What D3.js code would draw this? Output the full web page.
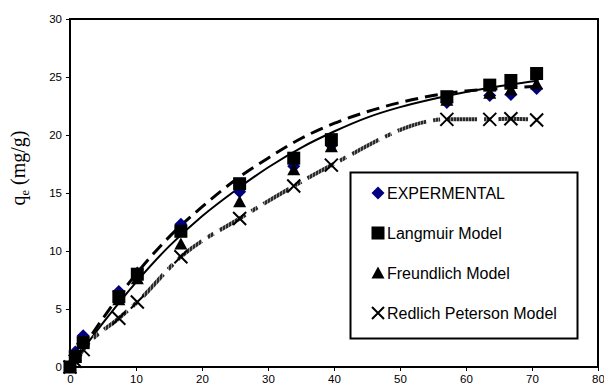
<!DOCTYPE html>
<html>
<head>
<meta charset="utf-8">
<script src="https://cdn.jsdelivr.net/npm/d3@7"></script>
<style>
  html, body { margin: 0; padding: 0; background: #fff; }
  svg { display: block; }
</style>
</head>
<body>
<svg id="chart" width="604" height="389"></svg>
<script>
// Contact time (x) shared by all series
const xValues = [0, 0.8, 2, 7.4, 10.2, 16.8, 25.7, 33.9, 39.6, 57.1, 63.6, 66.8, 70.7];

// Adsorbed amount q_e (mg/g)
const experimental = [0, 1.3, 2.7, 6.5, 8.1, 12.3, 15.1, 17.3, 19.1, 22.8, 23.4, 23.5, 24.0];
const langmuir     = [0, 0.9, 2.1, 6.06, 8.0, 11.7, 15.8, 18.0, 19.6, 23.3, 24.3, 24.7, 25.3];
const freundlich   = [0.2, 1.0, 2.2, 5.8, 7.6, 10.6, 14.25, 17.0, 19.0, 23.0, 23.6, 23.9, 24.4];
const redlich      = [0, 0.5, 1.5, 4.2, 5.6, 9.5, 12.8, 15.6, 17.4, 21.35, 21.35, 21.4, 21.3];

// Fitted trend curves
const trendX      = [0, 5, 10, 15, 20, 25, 30, 35, 40, 45, 50, 55, 60, 65, 71];
const solidTrend  = [0, 3.8, 7.3, 10.4, 13.0, 15.2, 17.2, 18.9, 20.3, 21.5, 22.4, 23.1, 23.7, 24.2, 24.7];
const dashedTrend = [0, 4.2, 8.0, 11.2, 13.8, 16.1, 18.0, 19.7, 21.0, 22.0, 22.8, 23.4, 23.8, 24.0, 24.2];

const xTicks = [0, 10, 20, 30, 40, 50, 60, 70, 80];
const yTicks = [0, 5, 10, 15, 20, 25, 30];
const legendLabels = ["EXPERMENTAL", "Langmuir Model", "Freundlich Model", "Redlich Peterson Model"];

const svg = d3.select("#chart");
const plotL = 70, plotR = 598, plotT = 19, plotB = 367;

const x = d3.scaleLinear().domain([0, 80]).range([plotL, plotR]);
const y = d3.scaleLinear().domain([0, 30]).range([plotB, plotT]);

// hatched stroke pattern for the Redlich Peterson curve
const defs = svg.append("defs");
const pat = defs.append("pattern")
  .attr("id", "hatch").attr("patternUnits", "userSpaceOnUse")
  .attr("width", 3).attr("height", 3);
pat.append("rect").attr("width", 3).attr("height", 3).attr("fill", "#2a2a2a");
pat.append("rect").attr("width", 1).attr("height", 3).attr("fill", "#8a8a8a");

const font = "'Liberation Sans', Arial, sans-serif";

// axes
const xAxis = d3.axisBottom(x).tickValues(xTicks).tickSize(4).tickPadding(4);
const yAxis = d3.axisLeft(y).tickValues(yTicks).tickSize(4).tickPadding(4);

const gx = svg.append("g").attr("transform", `translate(0,${plotB})`).call(xAxis);
const gy = svg.append("g").attr("transform", `translate(${plotL},0)`).call(yAxis);
[gx, gy].forEach(g => {
  g.select(".domain").remove();
  g.selectAll("line").attr("stroke", "#000").attr("stroke-width", 1);
  g.selectAll("text").attr("font-family", font).attr("font-size", 11.5).attr("fill", "#000");
});

// plot frame
svg.append("rect")
  .attr("x", plotL).attr("y", plotT)
  .attr("width", plotR - plotL).attr("height", plotB - plotT)
  .attr("fill", "none").attr("stroke", "#000").attr("stroke-width", 2);

// y axis title
const yt = svg.append("text")
  .attr("transform", `translate(25,168) rotate(-90)`)
  .attr("text-anchor", "middle")
  .attr("font-family", "'Liberation Serif', 'Times New Roman', serif")
  .attr("font-size", 20).attr("fill", "#000");
yt.append("tspan").text("q");
yt.append("tspan").attr("font-size", 12.5).attr("dy", 4).text("e");
yt.append("tspan").attr("dy", -4).text(" (mg/g)");

// trend curves
const smoothLine = d3.line().x(d => x(d[0])).y(d => y(d[1])).curve(d3.curveCatmullRom);
const monoLine = d3.line().x(d => x(d[0])).y(d => y(d[1])).curve(d3.curveMonotoneX);
svg.append("path")
  .datum(trendX.map((v, i) => [v, solidTrend[i]]))
  .attr("d", smoothLine).attr("fill", "none")
  .attr("stroke", "#000").attr("stroke-width", 2);
svg.append("path")
  .datum(trendX.map((v, i) => [v, dashedTrend[i]]))
  .attr("d", smoothLine).attr("fill", "none")
  .attr("stroke", "#000").attr("stroke-width", 3).attr("stroke-dasharray", "13,7");
svg.append("path")
  .datum(xValues.map((v, i) => [v, redlich[i]]))
  .attr("d", monoLine).attr("fill", "none")
  .attr("stroke", "url(#hatch)").attr("stroke-width", 4).attr("stroke-dasharray", "30,7,7,7");

// marker shapes
function diamond(g, cx, cy, s) {
  g.append("path").attr("d", `M${cx},${cy - s}L${cx + s},${cy}L${cx},${cy + s}L${cx - s},${cy}Z`)
    .attr("fill", "#000080");
}
function square(g, cx, cy, s) {
  g.append("rect").attr("x", cx - s).attr("y", cy - s).attr("width", 2 * s).attr("height", 2 * s)
    .attr("fill", "#000");
}
function triangle(g, cx, cy, s) {
  g.append("path").attr("d", `M${cx},${cy - s}L${cx + s},${cy + s * 0.85}L${cx - s},${cy + s * 0.85}Z`)
    .attr("fill", "#000");
}
function cross(g, cx, cy, s) {
  g.append("path").attr("d", `M${cx - s},${cy - s}L${cx + s},${cy + s}M${cx + s},${cy - s}L${cx - s},${cy + s}`)
    .attr("stroke", "#000").attr("stroke-width", 2).attr("fill", "none");
}

const marks = svg.append("g");
xValues.forEach((v, i) => diamond(marks, x(v), y(experimental[i]), 6.5));
xValues.forEach((v, i) => square(marks, x(v), y(langmuir[i]), 6.5));
xValues.forEach((v, i) => triangle(marks, x(v), y(freundlich[i]), 6.5));
xValues.forEach((v, i) => cross(marks, x(v), y(redlich[i]), 6.5));

// legend
const lg = svg.append("g");
lg.append("rect").attr("x", 350.5).attr("y", 172.5).attr("width", 227).attr("height", 166)
  .attr("fill", "#fff").attr("stroke", "#000").attr("stroke-width", 2);
const drawers = [
  (g, cx, cy) => diamond(g, cx, cy, 6.5),
  (g, cx, cy) => square(g, cx, cy, 6.5),
  (g, cx, cy) => triangle(g, cx, cy, 6.5),
  (g, cx, cy) => cross(g, cx, cy, 6)
];
legendLabels.forEach((lab, i) => {
  const cy = 193 + i * 40;
  drawers[i](lg, 378, cy);
  lg.append("text").attr("x", 387).attr("y", cy).attr("dy", "0.36em")
    .attr("font-family", font).attr("font-size", 16).attr("fill", "#000").text(lab);
});
</script>
</body>
</html>
